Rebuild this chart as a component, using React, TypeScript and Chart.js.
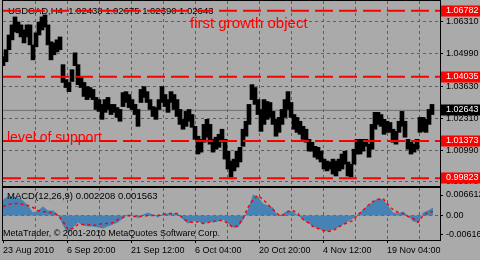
import React, { useEffect, useRef } from "react";
import { Chart, registerables } from "chart.js";

Chart.register(...registerables);

const FONT = "'Liberation Sans', Arial, sans-serif";

// one price sample every 3 H4 bars; MACD sample every 5 bars
const SAMPLE_STEP = 3;
const MACD_STEP = 5;
const X_MAX = 437;

const priceHigh = [
  1.0487, 1.0516, 1.0577, 1.0619, 1.0652, 1.0631, 1.0619, 1.0598, 1.0619, 1.0619,
  1.0536, 1.0586, 1.0631, 1.0652, 1.066, 1.0619, 1.0549, 1.0544, 1.0557, 1.0569,
  1.0454, 1.0392, 1.038, 1.0433, 1.0503, 1.0454, 1.04, 1.038, 1.0363, 1.0359,
  1.0351, 1.0318, 1.0309, 1.0289, 1.0309, 1.0318, 1.0289, 1.0289, 1.0276, 1.0268,
  1.0338, 1.0342, 1.033, 1.0309, 1.0289, 1.0268, 1.0351, 1.0363, 1.0342, 1.0309,
  1.028, 1.0276, 1.0309, 1.0363, 1.033, 1.0309, 1.0342, 1.033, 1.0309, 1.0268,
  1.0227, 1.026, 1.0268, 1.0247, 1.0198, 1.0157, 1.0144, 1.0206, 1.0227, 1.0206,
  1.0144, 1.0153, 1.0165, 1.0186, 1.0144, 1.0095, 1.0054, 1.0062, 1.0095, 1.0111,
  1.0186, 1.0219, 1.0289, 1.0371, 1.0359, 1.0309, 1.0268, 1.0309, 1.0301, 1.0297,
  1.026, 1.0227, 1.0235, 1.0268, 1.0309, 1.0342, 1.0297, 1.0247, 1.0235, 1.0219,
  1.0198, 1.0186, 1.0144, 1.0132, 1.0115, 1.0111, 1.0095, 1.0062, 1.0054, 1.005,
  1.0062, 1.0054, 1.0062, 1.0083, 1.0095, 1.005, 1.0041, 1.0103, 1.0144, 1.0144,
  1.0144, 1.0144, 1.0124, 1.0206, 1.0256, 1.0256, 1.0247, 1.0227, 1.0219, 1.0214,
  1.0186, 1.0177, 1.0219, 1.026, 1.0219, 1.0144, 1.0132, 1.0124, 1.0144, 1.0235,
  1.0235, 1.0227, 1.0268, 1.0289,
];

const priceLow = [
  1.045, 1.0466, 1.0516, 1.0557, 1.059, 1.0586, 1.0569, 1.0544, 1.0569, 1.0536,
  1.0474, 1.0528, 1.0577, 1.0598, 1.061, 1.0536, 1.0474, 1.0495, 1.0507, 1.0516,
  1.038, 1.0359, 1.0342, 1.0384, 1.045, 1.0371, 1.0359, 1.0322, 1.0309, 1.0318,
  1.0309, 1.0268, 1.026, 1.0227, 1.0256, 1.0268, 1.0247, 1.0256, 1.0235, 1.0219,
  1.028, 1.0297, 1.0276, 1.0268, 1.0247, 1.0198, 1.0297, 1.0318, 1.0297, 1.0268,
  1.0239, 1.0227, 1.0268, 1.0297, 1.028, 1.0256, 1.0297, 1.0268, 1.0239, 1.0206,
  1.0186, 1.0198, 1.0219, 1.0194, 1.0144, 1.0083, 1.0091, 1.0132, 1.0153, 1.0124,
  1.0091, 1.0103, 1.0111, 1.0132, 1.0062, 1.0021, 0.9988, 1.0013, 1.0029, 1.005,
  1.0115, 1.0157, 1.0206, 1.0309, 1.0289, 1.0247, 1.0177, 1.0206, 1.0227, 1.0235,
  1.0206, 1.0157, 1.0173, 1.0206, 1.0235, 1.0268, 1.0235, 1.0186, 1.0173, 1.0165,
  1.0144, 1.0132, 1.0095, 1.0095, 1.007, 1.0062, 1.005, 1.0021, 1.0013, 1.0021,
  1.0, 0.9992, 1.0013, 1.0021, 1.0041, 0.9992, 0.9988, 1.0041, 1.0083, 1.0083,
  1.0095, 1.0115, 1.007, 1.0103, 1.0186, 1.0206, 1.0198, 1.0165, 1.0173, 1.0173,
  1.0132, 1.0124, 1.0173, 1.0198, 1.0153, 1.0103, 1.0083, 1.0091, 1.0103, 1.0173,
  1.0177, 1.0173, 1.0206, 1.0247,
];

const macdHist = [
  0.00516, 0.00613, 0.00613, 0.00581, 0.00484, 0.00323, 0.00097, 0.00161, 0.0029, 0.00161,
  0.00161, 0.00032, -0.00323, -0.00581, -0.00387, -0.00226, -0.00323, -0.00355, -0.00355, -0.00387,
  -0.00419, -0.00355, -0.0029, -0.00226, -0.00097, 0.00032, 0.00032, -0.00097, 0.00032, 0.00097,
  0.00032, -0.00065, 0.00065, 0.00065, 0.00065, 0.00065, -0.00129, -0.00258, -0.00194, -0.00161,
  -0.0029, -0.00194, -0.00226, -0.00194, -0.00129, -0.00258, -0.00387, -0.00387, -0.00161, 0.00194,
  0.00677, 0.00613, 0.00387, 0.00323, 0.00258, -0.00032, 0.00065, 0.00161, 0.00129, 0.0,
  -0.00129, -0.00226, -0.00355, -0.00419, -0.00484, -0.00516, -0.00452, -0.00387, -0.0029, -0.00194,
  -0.00097, 0.00032, 0.00194, 0.00323, 0.00452, 0.00548, 0.00516, 0.00323, 0.00097, 0.00065,
  0.00129, 0.0, -0.00194, -0.00226, 0.00097, 0.00161, 0.00258,
];

const macdSignal = [
  0.0029, 0.00355, 0.00387, 0.00387, 0.00355, 0.00323, 0.00258, 0.00161, 0.00129, 0.00097,
  0.00097, 0.0, -0.00194, -0.00452, -0.00419, -0.0029, -0.0029, -0.0029, -0.00323, -0.0029,
  -0.00258, -0.00258, -0.00226, -0.00129, -0.00065, 0.0, -0.00032, -0.00032, -0.00032, 0.0,
  0.0, 0.0, 0.00032, 0.00065, 0.00065, 0.00065, -0.00097, -0.00194, -0.00226, -0.00194,
  -0.00258, -0.00226, -0.00194, -0.00161, -0.00161, -0.00258, -0.00387, -0.00323, -0.00097, 0.00258,
  0.00516, 0.00645, 0.00516, 0.00355, 0.00194, 0.00032, 0.0, 0.00129, 0.00161, 0.00065,
  -0.00129, -0.00226, -0.00355, -0.00419, -0.00484, -0.00516, -0.00484, -0.00387, -0.0029, -0.00226,
  -0.00161, 0.00032, 0.00161, 0.00323, 0.00452, 0.00516, 0.00548, 0.00355, 0.00194, 0.00097,
  0.00065, -0.00032, -0.00097, -0.00226, 0.0, 0.00097, 0.00129,
];

const priceTicks = [0.9967, 1.0099, 1.0231, 1.0363, 1.0499, 1.0631];
const levelLines = [1.06782, 1.04035, 1.01373, 0.99823];
const bidPrice = 1.02643;
const macdTicks = [-0.00616, 0, 0.006612];
const macdTickLabels = ["-0.00616", "0.00", "0.006612"];
const timeTicks = [0, 32, 64, 96, 128, 160, 192, 224, 256, 288, 320, 352, 384, 416];
const timeLabels = [
  "23 Aug 2010", "", "6 Sep 20:00", "", "21 Sep 12:00", "", "6 Oct 04:00", "",
  "20 Oct 20:00", "", "4 Nov 12:00", "", "19 Nov 04:00", "",
];

const titleText = "USDCAD,H4  1.02438 1.02675 1.02390 1.02643";
const annotations = [
  { text: "first growth object", x: 187, y: 1.0606, size: 15 },
  { text: "level of support", x: 4, y: 1.0134, size: 14 },
];
const macdTitle = "MACD(12,26,9) 0.002208 0.001563";
const copyright = "MetaTrader, \u00A9 2001-2010 MetaQuotes Software Corp.";

const BG = "#aaaaaa";
const GRID = "#5e5e5e";

const framePlugin = {
  id: "frame",
  afterDraw(chart: any) {
    const { ctx, chartArea } = chart;
    ctx.save();
    ctx.strokeStyle = "#000";
    ctx.lineWidth = 1;
    ctx.strokeRect(chartArea.left - 0.5, chartArea.top - 0.5, chartArea.right - chartArea.left + 1, chartArea.bottom - chartArea.top + 1);
    ctx.restore();
  },
};

const mainPlugin = {
  id: "mainText",
  beforeDatasetsDraw(chart: any) {
    const { ctx, chartArea } = chart;
    ctx.save();
    ctx.fillStyle = "#000";
    ctx.font = `9.5px ${FONT}`;
    ctx.textBaseline = "middle";
    ctx.textAlign = "left";
    ctx.fillText(titleText, chartArea.left + 5, chartArea.top + 10);
    ctx.restore();
  },
  afterDraw(chart: any) {
    const { ctx, scales } = chart;
    const xs = scales.x;
    const ys = scales.y;
    ctx.save();
    ctx.fillStyle = "#ff0000";
    ctx.textBaseline = "alphabetic";
    ctx.textAlign = "left";
    annotations.forEach((a) => {
      ctx.font = `${a.size}px ${FONT}`;
      ctx.fillText(a.text, xs.getPixelForValue(a.x), ys.getPixelForValue(a.y));
    });
    // price boxes on the right axis
    ctx.font = `9px ${FONT}`;
    ctx.textBaseline = "middle";
    const boxLeft = chart.chartArea.right + 1;
    const boxW = chart.width - boxLeft;
    const drawBox = (v: number, bg: string) => {
      const y = Math.round(ys.getPixelForValue(v));
      ctx.fillStyle = bg;
      ctx.fillRect(boxLeft, y - 5.5, boxW, 11);
      ctx.fillStyle = "#ffffff";
      ctx.fillText(v.toFixed(5), boxLeft + 5, y);
    };
    levelLines.forEach((v) => drawBox(v, "#ff0000"));
    drawBox(bidPrice, "#000000");
    ctx.restore();
  },
};

const macdPlugin = {
  id: "macdText",
  afterDatasetsDraw(chart: any) {
    const { ctx, chartArea } = chart;
    ctx.save();
    ctx.fillStyle = "#000";
    ctx.font = `9.5px ${FONT}`;
    ctx.textBaseline = "middle";
    ctx.textAlign = "left";
    ctx.fillText(macdTitle, chartArea.left + 4, chartArea.top + 8);
    ctx.font = `9px ${FONT}`;
    ctx.fillText(copyright, chartArea.left, chartArea.bottom - 6);
    ctx.restore();
  },
};

export default function App() {
  const mainRef = useRef<HTMLCanvasElement | null>(null);
  const macdRef = useRef<HTMLCanvasElement | null>(null);

  useEffect(() => {
    Chart.defaults.font.family = FONT;
    const lineSet = (v: number, color: string, width: number, dash: number[], order: number) => ({
      type: "line" as const,
      data: [
        { x: 0, y: v },
        { x: X_MAX, y: v },
      ],
      borderColor: color,
      borderWidth: width,
      borderDash: dash,
      pointRadius: 0,
      fill: false,
      order,
    });

    const main = new Chart(mainRef.current as HTMLCanvasElement, {
      type: "bar",
      data: {
        datasets: [
          lineSet(bidPrice, "#707070", 1, [], 3) as any,
          {
            type: "bar",
            data: priceHigh.map((h, i) => ({ x: i * SAMPLE_STEP, y: [priceLow[i], h] })) as any,
            backgroundColor: "#000000",
            borderWidth: 0,
            barThickness: 4,
            order: 2,
          },
          ...levelLines.map((v) => lineSet(v, "#ff0000", 2, [18, 6], 1) as any),
        ],
      },
      options: {
        animation: false,
        responsive: false,
        maintainAspectRatio: false,
        events: [],
        layout: { padding: { left: 3, top: 1, right: 0, bottom: 1 } },
        plugins: { legend: { display: false }, tooltip: { enabled: false } },
        scales: {
          x: {
            type: "linear",
            min: 0,
            max: X_MAX,
            offset: false,
            afterBuildTicks: (s: any) => {
              s.ticks = timeTicks.slice(1).map((v) => ({ value: v }));
            },
            ticks: { display: false },
            grid: { color: GRID, drawTicks: false, offset: false, lineWidth: 1 },
            border: { display: false, dash: [3, 3] },
            afterFit: (s: any) => {
              s.height = 0;
            },
          },
          y: {
            position: "right",
            min: 0.995039,
            max: 1.071815,
            afterBuildTicks: (s: any) => {
              s.ticks = priceTicks.map((v) => ({ value: v }));
            },
            ticks: {
              autoSkip: false,
              padding: 3,
              color: "#000",
              font: { size: 9, family: FONT },
              callback: (v: any) => Number(v).toFixed(5),
            },
            grid: { color: GRID, tickColor: "#000", tickLength: 3, lineWidth: 1 },
            border: { display: false, dash: [3, 3] },
            afterFit: (s: any) => {
              s.width = 40;
              s.paddingTop = 0;
              s.paddingBottom = 0;
            },
          },
        },
      } as any,
      plugins: [framePlugin, mainPlugin],
    });

    const macd = new Chart(macdRef.current as HTMLCanvasElement, {
      type: "line",
      data: {
        datasets: [
          {
            data: macdHist.map((v, i) => ({ x: i * MACD_STEP, y: v })),
            fill: "origin",
            backgroundColor: "#4682b4",
            borderColor: "rgba(0,0,0,0)",
            borderWidth: 0,
            pointRadius: 0,
            order: 2,
          },
          {
            data: macdSignal.map((v, i) => ({ x: i * MACD_STEP, y: v })),
            fill: false,
            borderColor: "#ff0000",
            borderWidth: 1.5,
            borderDash: [3, 3],
            pointRadius: 0,
            order: 1,
          },
        ],
      },
      options: {
        animation: false,
        responsive: false,
        maintainAspectRatio: false,
        events: [],
        layout: { padding: { left: 3, top: 1, right: 0, bottom: 0 } },
        plugins: { legend: { display: false }, tooltip: { enabled: false } },
        scales: {
          x: {
            type: "linear",
            min: 0,
            max: X_MAX,
            afterBuildTicks: (s: any) => {
              s.ticks = timeTicks.map((v) => ({ value: v }));
            },
            ticks: {
              autoSkip: false,
              maxRotation: 0,
              minRotation: 0,
              align: "start",
              padding: 2,
              color: "#000",
              font: { size: 9, family: FONT },
              callback: (_v: any, i: number) => timeLabels[i],
            },
            grid: {
              color: (c: any) => (c.tick && c.tick.value === 0 ? "rgba(0,0,0,0)" : GRID),
              tickColor: (c: any) => (timeLabels[c.index] ? "#000" : "rgba(0,0,0,0)"),
              tickLength: 3,
              lineWidth: 1,
            },
            border: { display: false, dash: [3, 3] },
            afterFit: (s: any) => {
              s.height = 20;
            },
          },
          y: {
            position: "right",
            min: -0.0079,
            max: 0.00887,
            afterBuildTicks: (s: any) => {
              s.ticks = macdTicks.map((v) => ({ value: v }));
            },
            ticks: {
              autoSkip: false,
              padding: 3,
              color: "#000",
              font: { size: 9, family: FONT },
              callback: (_v: any, i: number) => macdTickLabels[i],
            },
            grid: {
              color: (c: any) => (c.tick && c.tick.value === 0 ? GRID : "rgba(0,0,0,0)"),
              tickColor: "#000",
              tickLength: 3,
              lineWidth: 1,
            },
            border: { display: false, dash: [3, 3] },
            afterFit: (s: any) => {
              s.width = 40;
              s.paddingTop = 0;
              s.paddingBottom = 0;
            },
          },
        },
      } as any,
      plugins: [framePlugin, macdPlugin],
    });

    return () => {
      main.destroy();
      macd.destroy();
    };
  }, []);

  return (
    <div
      style={{
        position: "absolute",
        left: 0,
        top: 0,
        width: 480,
        height: 260,
        background: BG,
        overflow: "hidden",
      }}
    >
      <canvas ref={mainRef} width={480} height={187} style={{ position: "absolute", left: 0, top: 0, width: 480, height: 187 }} />
      <canvas ref={macdRef} width={480} height={73} style={{ position: "absolute", left: 0, top: 187, width: 480, height: 73 }} />
    </div>
  );
}
